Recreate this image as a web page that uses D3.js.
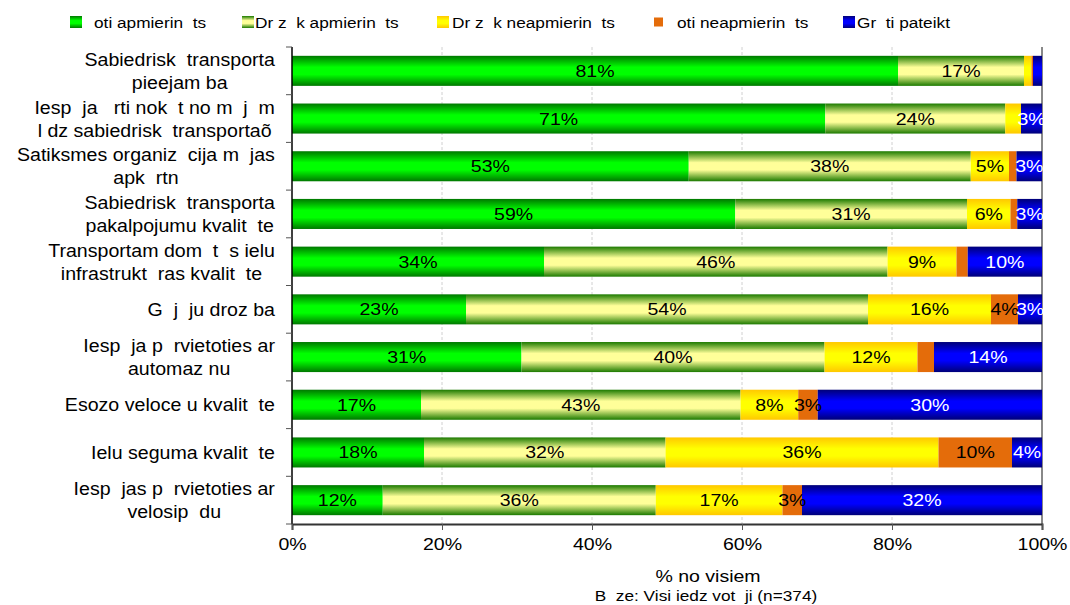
<!DOCTYPE html>
<html><head><meta charset="utf-8">
<script src="https://cdn.jsdelivr.net/npm/d3@7"></script>
<style>
body{margin:0;background:#fff;}
text{font-family:"Liberation Sans",Arial,sans-serif;white-space:pre;}
</style></head>
<body><svg id="c" width="1070" height="605"></svg>
<script>
const categories = [
  ["Sabiedrisk  transporta","pieejam ba"],
  ["Iesp  ja   rti nok  t no m  j  m","l dz sabiedrisk  transportaõ"],
  ["Satiksmes organiz  cija m  jas","apk  rtn"],
  ["Sabiedrisk  transporta","pakalpojumu kvalit  te"],
  ["Transportam dom  t  s ielu","infrastrukt  ras kvalit  te"],
  ["G  j  ju droz ba"],
  ["Iesp  ja p  rvietoties ar","automaz nu"],
  ["Esozo veloce u kvalit  te"],
  ["Ielu seguma kvalit  te"],
  ["Iesp  jas p  rvietoties ar","velosip  du"]
];
const seriesNames = ["oti apmierin  ts","Dr z  k apmierin  ts","Dr z  k neapmierin  ts","oti neapmierin  ts","Gr  ti pateikt"];
const veryHappy   = [80.8, 71.1, 52.9, 59.1, 33.6, 23.2, 30.6, 17.2, 17.6, 12.1];
const ratherHappy = [16.8, 24.0, 37.6, 30.9, 45.8, 53.6, 40.4, 42.6, 32.2, 36.4];
const ratherUnhappy=[ 1.0,  2.1,  5.1,  5.8,  9.2, 16.4, 12.4,  7.7, 36.4, 16.9];
const veryUnhappy = [ 0.2,  0.0,  1.0,  0.9,  1.5,  3.6,  2.2,  2.6,  9.8,  2.6];
const dontKnow    = [ 1.2,  2.8,  3.4,  3.3,  9.9,  3.2, 14.4, 29.9,  4.0, 32.0];
const xTicks = [0, 20, 40, 60, 80, 100];
const xTitle = "% no visiem";
const note = "B  ze: Visi iedz vot  ji (n=374)";

const SX = 1.15; // horizontal stretch of the reference text
const SXL = 1.12;
const series = [veryHappy, ratherHappy, ratherUnhappy, veryUnhappy, dontKnow];
const svg = d3.select("#c");
const defs = svg.append("defs");
const grads = [
  ["#007800","#00ff00","#00ff00","#007800"],
  ["#1c7a00","#ffff99","#ffff99","#1c7a00"],
  ["#ffc800","#ffff00","#ffff00","#ffc800"],
  ["#e46c0a","#e46c0a","#e46c0a","#e46c0a"],
  ["#000078","#0000ff","#0000ff","#000078"]
];
const offs = ["0%","38%","62%","100%"];
grads.forEach((g,i)=>{
  const lg = defs.append("linearGradient").attr("id","g"+i).attr("x1",0).attr("y1",0).attr("x2",0).attr("y2",1);
  g.forEach((c,j)=>lg.append("stop").attr("offset",offs[j]).attr("stop-color",c));
});

function stxt(parent, px, py, str, size, anchor, fill){
  return parent.append("text").attr("transform",`translate(${px},${py}) scale(${SX},1)`)
    .attr("text-anchor",anchor||"start").attr("font-size",size).attr("fill",fill||"#000").text(str);
}

const x0 = 292, x1 = 1042, y0 = 47, y1 = 524;
const x = d3.scaleLinear().domain([0,100]).range([x0,x1]);
const y = d3.scaleBand().domain(d3.range(categories.length)).range([y0,y1]).paddingInner(0.37).paddingOuter(0.185);

svg.append("g").selectAll("line").data(xTicks.filter(t=>t>0&&t<100)).join("line")
  .attr("x1",d=>x(d)).attr("x2",d=>x(d)).attr("y1",y0).attr("y2",y1)
  .attr("stroke","#d0d0d0").attr("stroke-dasharray","3,2");
svg.append("line").attr("x1",x(100)).attr("x2",x(100)).attr("y1",y0).attr("y2",y1).attr("stroke","#888").attr("stroke-width",2);

const stacked = categories.map((c,i)=>{
  let acc=0;
  return series.map((s,k)=>{ const v=s[i]; const r={i,k,a:acc,b:acc+v,v}; acc+=v; return r; });
});
const g = svg.append("g");
stacked.forEach(row=>{
  g.append("g").selectAll("rect").data(row).join("rect")
   .attr("x",d=>x(d.a)).attr("width",d=>Math.max(0,x(d.b)-x(d.a)))
   .attr("y",d=>y(d.i)).attr("height",y.bandwidth())
   .attr("fill",d=>"url(#g"+d.k+")");
});
stacked.forEach(row=>{
  row.filter(d=>d.v>=2.5).forEach(d=>{
    stxt(g, x((d.a+d.b)/2), y(d.i)+y.bandwidth()/2+6, Math.round(d.v)+"%", 17, "middle", d.k===4?"#fff":"#000");
  });
});

svg.append("line").attr("x1",x0).attr("x2",x0).attr("y1",y0).attr("y2",y1).attr("stroke","#000").attr("stroke-width",1.5);
const step = y.step();
svg.append("g").selectAll("line").data(d3.range(categories.length+1)).join("line")
  .attr("x1",x0-6).attr("x2",x0).attr("y1",d=>y0+d*step).attr("y2",d=>y0+d*step)
  .attr("stroke","#555");
const xAxis = d3.axisBottom(x).tickValues(xTicks).tickFormat(d=>d+"%").tickSize(6).tickPadding(8);
const ax = svg.append("g").attr("transform",`translate(0,${y1})`).call(xAxis);
ax.select(".domain").attr("stroke","#333").attr("stroke-width",2);
ax.selectAll(".tick line").attr("stroke","#555");
ax.selectAll("text").attr("font-size",17).attr("fill","#000").attr("font-family","Liberation Sans, Arial, sans-serif")
  .attr("transform",`scale(${SX},1)`).attr("x",0);

const lab = svg.append("g");
categories.forEach((lines,i)=>{
  const cy = y(i)+y.bandwidth()/2;
  const lh = 23;
  const texts = lines.map((l,j)=>lab.append("text").attr("font-size",17.5).attr("fill","#000")
     .attr("text-anchor","middle").text(l));
  const w = d3.max(texts,tt=>tt.node().getComputedTextLength())*SXL;
  texts.forEach((tt,j)=>tt.attr("transform",`translate(${275-w/2},${cy+(j-(lines.length-1)/2)*lh+6.5}) scale(${SXL},1)`));
});

const legX = [70,242,437,654,843];
const legTx = [94,255,452,677,857];
seriesNames.forEach((n,k)=>{
  const s = k===3?9:12;
  svg.append("rect").attr("x",legX[k]).attr("y",22-s/2).attr("width",s).attr("height",s).attr("fill","url(#g"+k+")");
  stxt(svg, legTx[k], 27.5, n, 15, "start");
});

stxt(svg, 708, 582, xTitle, 17, "middle");
stxt(svg, 706, 601, note, 15, "middle");
</script></body></html>
